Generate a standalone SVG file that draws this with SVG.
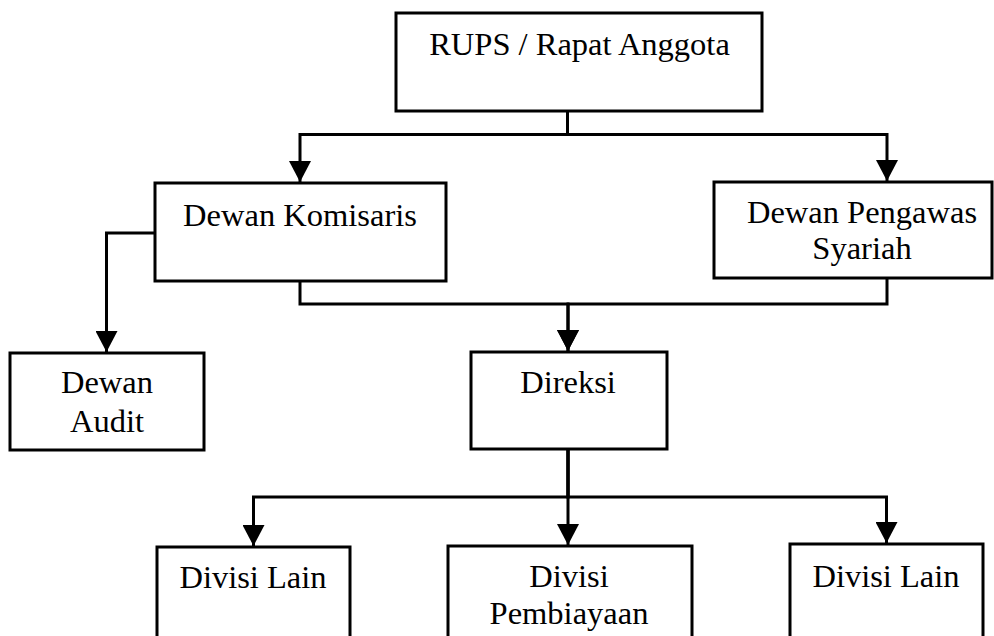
<svg xmlns="http://www.w3.org/2000/svg" width="994" height="636" viewBox="0 0 994 636">
<style>
.box{fill:#fff;stroke:#000;stroke-width:3}
.lbl{font-family:"Liberation Serif","Times New Roman",serif;font-size:32.5px;fill:#000;text-anchor:middle}
.con{fill:none;stroke:#000;stroke-width:3}
</style>
<defs>
<marker id="arr" markerUnits="userSpaceOnUse" markerWidth="22" markerHeight="22" refX="21" refY="11" orient="auto" viewBox="0 0 22 22">
<path d="M0,0 L21,11 L0,22 z" fill="#000"/>
</marker>
</defs>
<rect width="994" height="636" fill="#fff"/>
<g id="connectors">
<path class="con" d="M567.5,111 V134.5 H300 V182" marker-end="url(#arr)"/>
<path class="con" d="M567.5,111 V134.5 H887 V181" marker-end="url(#arr)"/>
<path class="con" d="M155,233 H106.5 V352" marker-end="url(#arr)"/>
<path class="con" d="M300,281 V304 H568 V351" marker-end="url(#arr)"/>
<path class="con" d="M887,278 V304 H568 V351" marker-end="url(#arr)"/>
<path class="con" d="M568,449 V497 H253.5 V546" marker-end="url(#arr)"/>
<path class="con" d="M568,449 V545" marker-end="url(#arr)"/>
<path class="con" d="M568,449 V497 H886.5 V543" marker-end="url(#arr)"/>
</g>
<g id="rups">
<rect class="box" x="396" y="13" width="366" height="98"/>
<text class="lbl" x="579.5" y="55">RUPS / Rapat Anggota</text>
</g>
<g id="dewan-komisaris">
<rect class="box" x="155" y="183" width="291" height="98"/>
<text class="lbl" x="300" y="226">Dewan Komisaris</text>
</g>
<g id="dewan-pengawas-syariah">
<rect class="box" x="714" y="182" width="278" height="96"/>
<text class="lbl" x="862" y="223">Dewan Pengawas</text>
<text class="lbl" x="862" y="259">Syariah</text>
</g>
<g id="dewan-audit">
<rect class="box" x="10" y="353" width="194" height="97"/>
<text class="lbl" x="107" y="393">Dewan</text>
<text class="lbl" x="107" y="432">Audit</text>
</g>
<g id="direksi">
<rect class="box" x="471" y="352" width="196" height="97"/>
<text class="lbl" x="568" y="393">Direksi</text>
</g>
<g id="divisi-lain-1">
<rect class="box" x="157" y="547" width="193" height="100"/>
<text class="lbl" x="253" y="588">Divisi Lain</text>
</g>
<g id="divisi-pembiayaan">
<rect class="box" x="448" y="546" width="244" height="100"/>
<text class="lbl" x="569" y="587">Divisi</text>
<text class="lbl" x="569" y="624">Pembiayaan</text>
</g>
<g id="divisi-lain-2">
<rect class="box" x="790" y="544" width="193" height="100"/>
<text class="lbl" x="886" y="587">Divisi Lain</text>
</g>
</svg>
